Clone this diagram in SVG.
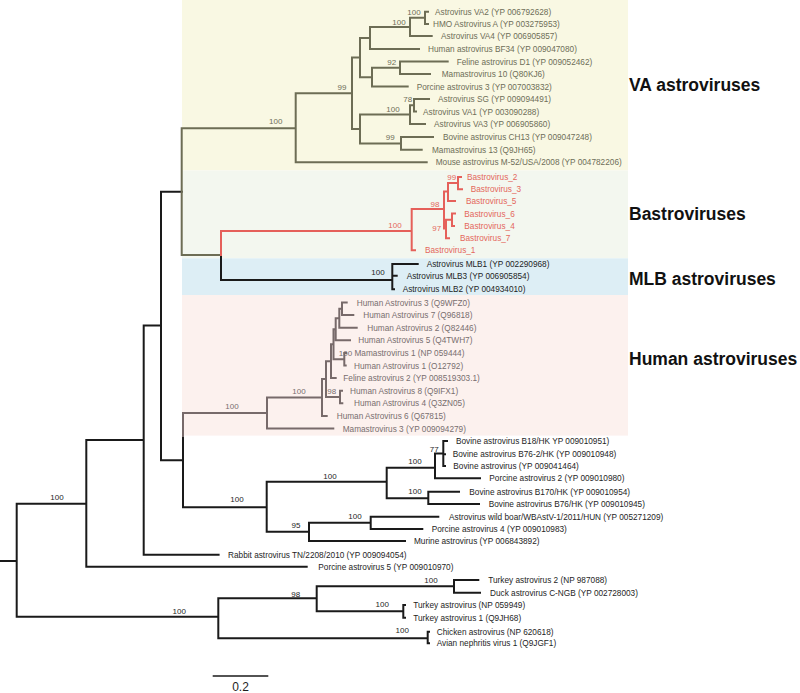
<svg xmlns="http://www.w3.org/2000/svg" width="800" height="693" viewBox="0 0 800 693">
<style>
text{font-family:"Liberation Sans",Arial,sans-serif;font-size:8.25px}
.bs{font-size:8px;text-anchor:middle}
.hdr{font-size:17.5px;font-weight:bold;fill:#111}
.scl{font-size:12px;text-anchor:middle;fill:#1e1e1e}
.br{fill:none;stroke-width:2;stroke-linecap:square}
.k{stroke:#1a1a1a}.kt{fill:#1e1e1e}
.v{stroke:#6d6d55}.vt{fill:#6e6e58}
.r{stroke:#e5605a}.rt{fill:#e4675c}
.h{stroke:#776a6a}.ht{fill:#786e6e}
</style>
<rect x="0" y="0" width="800" height="693" fill="#fff"/>
<g id="bands">
<rect x="182" y="0" width="446" height="170.5" fill="#f9f8e3"/>
<rect x="182" y="170.5" width="446" height="87.8" fill="#f3f7ef"/>
<rect x="182" y="258.3" width="446" height="36.7" fill="#ddeef5"/>
<rect x="182" y="295" width="446" height="140.6" fill="#fcf1ee"/>
</g>
<g id="connectors">
<path class="br k" d="M0,561H16.7M16.7,503.7V616.7M16.7,503.7H86.3M86.3,440V566.7M86.3,566.7H306.7M86.3,440H143.7M143.7,325.5V554.7M143.7,554.7H218.6M143.7,325.5H161M161,191.7V460.3M161,191.7H181.7M161,460.3H183M183,436V507.3M183,507.3H266.7M266.7,481.7V531.7M266.7,481.7H386.7M386.7,467.7V498.3M386.7,467.7H435M435,453.5V478.3M435,478.3H480M435,453.5H443.3M443.3,441V466M443.3,441H447M443.3,454.3H445M443.3,466H445M386.7,498.3H428.3M428.3,491.7V504M428.3,491.7H459M428.3,504H479M266.7,531.7H309M309,522.8V541M309,541H405M309,522.8H370.7M370.7,516.7V529M370.7,516.7H438.3M370.7,529H422.3M16.7,616.7H218.3M218.3,598.3V638.3M218.3,598.3H316.7M316.7,586.3V611.3M316.7,586.3H454M454,580V592.7M454,580H478.3M454,592.7H480M316.7,611.3H403.3M403.3,605V617.7M403.3,605H405M403.3,617.7H405M218.3,638.3H427.7M427.7,631.7V643.3M427.7,631.7H429M427.7,643.3H429"/>
<path class="br k" d="M221,255V280M221,280H392.3M392.3,264V289.3M392.3,264H417.7M392.3,275.7H396.7M392.3,289.3H394"/>
<path class="br v" d="M181.7,128.3V255M181.7,255H221M181.7,128.3H295.7M295.7,93.3V162.3M295.7,162.3H426.7M295.7,93.3H352M352,57.6V129M352,57.6H360M360,38V77.3M360,38H370M370,27V48.9M370,48.9H419M370,27H410M410,17.8V36.1M410,36.1H431.7M410,17.8H425M425,11.7V23.9M425,11.7H428M425,23.9H428M360,77.3H372M372,67.8V86.6M372,86.6H407.7M372,67.8H400M400,61.5V74M400,61.5H447.7M400,74H430M352,129H360M360,114.5V143.4M360,114.5H410M410,105.3V124M410,124H425M410,105.3H414M414,99.1V111.5M414,99.1H429M414,111.5H416M360,143.4H401M401,137V149.8M401,137H433M401,149.8H421.7"/>
<path class="br r" d="M221,231V255M221,231H411.7M411.7,209V250.3M411.7,250.3H415M411.7,209H444M444,191.5V228.5M444,191.5H448M448,183V201M448,183H458M458,177V189.3M458,177H461M458,189.3H462M448,201H455M444,228.5H446M446,219.7V238.3M446,219.7H452M452,213.5V226M452,213.5H455M452,226H454M446,238.3H449"/>
<path class="br h" d="M183,413V436M183,413H267M267,397.5V428.5M267,428.5H333.3M267,397.5H322M322,379.1V415.9M322,415.9H326.7M322,379.1H326M326,361.2V397M326,397H340M340,390.7V403.3M340,390.7H342M340,403.3H342.3M326,361.2H331M331,344.3V378.1M331,378.1H335.7M331,344.3H333.5M333.5,329.3V359.2M333.5,359.2H344.3M344.3,352.9V365.5M344.3,352.9H346M344.3,365.5H345.7M333.5,329.3H335.7M335.7,318.3V340.3M335.7,340.3H350M335.7,318.3H339.3M339.3,308.8V327.7M339.3,327.7H356.7M339.3,308.8H342M342,302.5V315.1M342,302.5H346.7M342,315.1H353.3"/>
<path fill="none" stroke="#1a1a1a" stroke-width="1.5" d="M212.7,676H268.3"/>
</g>
<g id="support">
<g class="vt">
<text class="bs" x="275.7" y="124">100</text>
<text class="bs" x="342" y="90">99</text>
<text class="bs" x="399" y="24.5">100</text>
<text class="bs" x="414" y="14.5">100</text>
<text class="bs" x="391.7" y="64.5">92</text>
<text class="bs" x="407.7" y="102">78</text>
<text class="bs" x="393" y="112">100</text>
<text class="bs" x="390.3" y="139.5">99</text>
</g>
<g class="rt">
<text class="bs" x="395" y="228">100</text>
<text class="bs" x="435" y="207">98</text>
<text class="bs" x="451.7" y="179.5">99</text>
<text class="bs" x="436.7" y="231">97</text>
</g>
<text class="bs kt" x="378" y="275">100</text>
<g class="ht">
<text class="bs" x="232" y="409">100</text>
<text class="bs" x="299" y="393.5">100</text>
<text class="bs" x="345.5" y="355.5">100</text>
<text class="bs" x="331.7" y="393.5">98</text>
</g>
<g class="kt">
<text class="bs" x="57" y="499.7">100</text>
<text class="bs" x="237" y="502">100</text>
<text class="bs" x="330" y="478.5">100</text>
<text class="bs" x="415" y="463.5">100</text>
<text class="bs" x="434.3" y="452">77</text>
<text class="bs" x="415" y="494">100</text>
<text class="bs" x="296" y="528">95</text>
<text class="bs" x="355" y="519">100</text>
<text class="bs" x="179.3" y="614">100</text>
<text class="bs" x="295.7" y="597">98</text>
<text class="bs" x="431" y="583">100</text>
<text class="bs" x="382.3" y="607.3">100</text>
<text class="bs" x="402.3" y="633">100</text>
</g>
</g>
<g id="va-taxa" class="vt">
<text id="t-va2" x="435" y="14.7">Astrovirus VA2 (YP 006792628)</text>
<text id="t-hmo" x="433" y="26.9">HMO Astrovirus A (YP 003275953)</text>
<text id="t-va4" x="441" y="39.1">Astrovirus VA4 (YP 006905857)</text>
<text id="t-bf34" x="428" y="51.9">Human astrovirus BF34 (YP 009047080)</text>
<text id="t-feld1" x="456.7" y="64.5">Feline astrovirus D1 (YP 009052462)</text>
<text id="t-mama10" x="441.7" y="77">Mamastrovirus 10 (Q80KJ6)</text>
<text id="t-porc3" x="416.7" y="89.6">Porcine astrovirus 3 (YP 007003832)</text>
<text id="t-sg" x="438" y="102.1">Astrovirus SG (YP 009094491)</text>
<text id="t-va1" x="423" y="114.5">Astrovirus VA1 (YP 003090288)</text>
<text id="t-va3" x="434" y="127">Astrovirus VA3 (YP 006905860)</text>
<text id="t-ch13" x="443" y="140">Bovine astrovirus CH13 (YP 009047248)</text>
<text id="t-mama13" x="432" y="152.8">Mamastrovirus 13 (Q9JH65)</text>
<text id="t-mouse" x="435.7" y="165.3">Mouse astrovirus M-52/USA/2008 (YP 004782206)</text>
</g>
<g id="bastro-taxa" class="rt">
<text id="t-b2" x="467" y="180">Bastrovirus_2</text>
<text id="t-b3" x="470.7" y="192.3">Bastrovirus_3</text>
<text id="t-b5" x="466" y="204">Bastrovirus_5</text>
<text id="t-b6" x="464.3" y="216.5">Bastrovirus_6</text>
<text id="t-b4" x="464.3" y="229">Bastrovirus_4</text>
<text id="t-b7" x="460" y="241.3">Bastrovirus_7</text>
<text id="t-b1" x="425" y="253.3">Bastrovirus_1</text>
</g>
<g id="mlb-taxa" class="kt">
<text id="t-mlb1" x="426.7" y="267">Astrovirus MLB1 (YP 002290968)</text>
<text id="t-mlb3" x="406.7" y="278.7">Astrovirus MLB3 (YP 006905854)</text>
<text id="t-mlb2" x="402.7" y="292.3">Astrovirus MLB2 (YP 004934010)</text>
</g>
<g id="human-taxa" class="ht">
<text id="t-h3" x="356.7" y="305.5">Human Astrovirus 3 (Q9WFZ0)</text>
<text id="t-h7" x="363.3" y="318.1">Human Astrovirus 7 (Q96818)</text>
<text id="t-h2" x="367.3" y="330.7">Human Astrovirus 2 (Q82446)</text>
<text id="t-h5" x="358.3" y="343.3">Human Astrovirus 5 (Q4TWH7)</text>
<text id="t-mama1" x="354.5" y="355.9">Mamastrovirus 1 (NP 059444)</text>
<text id="t-h1" x="354" y="368.5">Human Astrovirus 1 (O12792)</text>
<text id="t-fel2" x="343.3" y="381.1">Feline astrovirus 2 (YP 008519303.1)</text>
<text id="t-h8" x="350" y="393.7">Human Astrovirus 8 (Q9IFX1)</text>
<text id="t-h4" x="354" y="406.3">Human Astrovirus 4 (Q3ZN05)</text>
<text id="t-h6" x="336.7" y="418.9">Human Astrovirus 6 (Q67815)</text>
<text id="t-mama3" x="342.7" y="431.5">Mamastrovirus 3 (YP 009094279)</text>
</g>
<g id="other-taxa" class="kt">
<text id="t-b18" x="456" y="444">Bovine astrovirus B18/HK YP 009010951)</text>
<text id="t-b762" x="452.7" y="457.3">Bovine astrovirus B76-2/HK (YP 009010948)</text>
<text id="t-bov" x="453.3" y="469">Bovine astrovirus (YP 009041464)</text>
<text id="t-porc2" x="489.3" y="481.3">Porcine astrovirus 2 (YP 009010980)</text>
<text id="t-b170" x="469.3" y="494.7">Bovine astrovirus B170/HK (YP 009010954)</text>
<text id="t-b76" x="488.7" y="507">Bovine astrovirus B76/HK (YP 009010945)</text>
<text id="t-boar" x="449" y="519.7">Astrovirus wild boar/WBAstV-1/2011/HUN (YP 005271209)</text>
<text id="t-porc4" x="431.7" y="532">Porcine astrovirus 4 (YP 009010983)</text>
<text id="t-murine" x="414" y="544">Murine astrovirus (YP 006843892)</text>
<text id="t-rabbit" x="228" y="557.7">Rabbit astrovirus TN/2208/2010 (YP 009094054)</text>
<text id="t-porc5" x="318.3" y="569.7">Porcine astrovirus 5 (YP 009010970)</text>
<text id="t-tur2" x="488.3" y="583">Turkey astrovirus 2 (NP 987088)</text>
<text id="t-duck" x="490" y="595.7">Duck astrovirus C-NGB (YP 002728003)</text>
<text id="t-tur" x="413.3" y="608">Turkey astrovirus (NP 059949)</text>
<text id="t-tur1" x="413.3" y="620.7">Turkey astrovirus 1 (Q9JH68)</text>
<text id="t-chick" x="436.7" y="634.7">Chicken astrovirus (NP 620618)</text>
<text id="t-anv1" x="436.7" y="646.3">Avian nephritis virus 1 (Q9JGF1)</text>
</g>
<g id="clade-labels">
<text class="hdr" x="629" y="91">VA astroviruses</text>
<text class="hdr" x="629" y="220">Bastroviruses</text>
<text class="hdr" x="629" y="285">MLB astroviruses</text>
<text class="hdr" x="629" y="365">Human astroviruses</text>
</g>
<text id="scale-label" class="scl" x="240.5" y="691">0.2</text>
</svg>
